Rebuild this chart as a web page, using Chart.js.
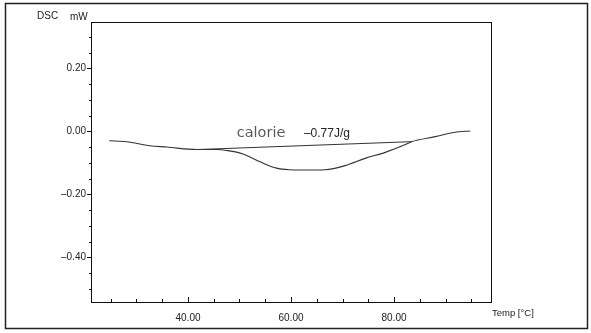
<!DOCTYPE html>
<html>
<head>
<meta charset="utf-8">
<script src="https://cdn.jsdelivr.net/npm/chart.js@4"></script>
<style>
  html, body { margin: 0; padding: 0; background: #fff; }
  #wrap { width: 591px; height: 333px; }
</style>
</head>
<body>
<div id="wrap"><canvas id="dscChart" width="591" height="333"></canvas></div>
<script>
// DSC curve
const curveTemp = [24.7, 28.1, 32.6, 35.9, 41.7, 45.6, 47.5, 50.7, 54.0, 57.2, 59.8, 63.0, 66.6, 70.5, 74.4, 78.3, 82.1, 83.4, 88.0, 91.8, 94.8];
const curveDsc = [-0.030, -0.033, -0.046, -0.050, -0.058, -0.058, -0.061, -0.072, -0.097, -0.117, -0.122, -0.123, -0.122, -0.109, -0.086, -0.067, -0.043, -0.033, -0.017, -0.003, 0.001];

// integration baseline
const baseTemp = [41.7, 83.4];
const baseDsc = [-0.058, -0.033];

const xTickValues = [40, 60, 80];
const yTickValues = [0.2, 0, -0.2, -0.4];

function toPoints(xs, ys) {
    return xs.map((x, i) => ({ x: x, y: ys[i] }));
}

function fmt(v) {
    const s = Math.abs(v).toFixed(2);
    return v < 0 ? '\u2013' + s : s;
}

const decor = {
    id: 'decor',
    beforeDraw(chart) {
        const ctx = chart.ctx;
        ctx.save();
        ctx.fillStyle = '#fff';
        ctx.fillRect(0, 0, chart.width, chart.height);
        ctx.restore();
    },
    afterDraw(chart) {
        const ctx = chart.ctx;
        const a = chart.chartArea;
        const xs = chart.scales.x;
        const ys = chart.scales.y;
        ctx.save();

        // outer frame
        ctx.strokeStyle = '#222';
        ctx.lineWidth = 1.5;
        ctx.strokeRect(5.5, 3.5, 582, 325);

        // plot frame
        ctx.lineWidth = 1;
        ctx.strokeStyle = '#111';
        ctx.strokeRect(a.left + 0.5, a.top + 0.5, a.right - a.left, a.bottom - a.top);

        // x ticks, drawn inward
        ctx.beginPath();
        for (let t = 25; t <= 95; t += 5) {
            const px = Math.round(xs.getPixelForValue(t)) + 0.5;
            const len = xTickValues.includes(t) ? 5 : 3;
            ctx.moveTo(px, a.bottom);
            ctx.lineTo(px, a.bottom - len);
        }
        // y minor ticks, outward
        for (let k = -10; k <= 6; k++) {
            const v = k * 0.05;
            if (k % 4 === 0) continue;
            const py = Math.round(ys.getPixelForValue(v)) + 0.5;
            ctx.moveTo(a.left, py);
            ctx.lineTo(a.left - 2, py);
        }
        ctx.stroke();

        // axis captions
        ctx.fillStyle = '#222';
        ctx.font = '10px "Liberation Sans", Arial, sans-serif';
        ctx.textBaseline = 'alphabetic';
        ctx.textAlign = 'left';
        ctx.fillText('DSC', 37, 19);
        ctx.fillText('mW', 70, 20);
        ctx.font = '9.5px "Liberation Sans", Arial, sans-serif';
        ctx.fillText('Temp [\u00B0C]', 492, 316);

        // peak annotation
        const ty = ys.getPixelForValue(-0.017);
        ctx.fillStyle = '#5a5a5a';
        ctx.font = '14.5px "DejaVu Sans", Verdana, sans-serif';
        ctx.fillText('calorie', xs.getPixelForValue(49.45), ty);
        ctx.fillStyle = '#222';
        ctx.font = '12px "Liberation Sans", Arial, sans-serif';
        ctx.fillText('\u20130.77J/g', xs.getPixelForValue(62.5), ty);

        ctx.restore();
    }
};

const config = {
    type: 'scatter',
    data: {
        datasets: [
            {
                data: toPoints(curveTemp, curveDsc),
                showLine: true,
                borderColor: '#333',
                borderWidth: 1.1,
                pointRadius: 0,
                cubicInterpolationMode: 'monotone'
            },
            {
                data: toPoints(baseTemp, baseDsc),
                showLine: true,
                borderColor: '#333',
                borderWidth: 1,
                pointRadius: 0
            }
        ]
    },
    options: {
        responsive: false,
        animation: false,
        events: [],
        layout: { padding: { top: 22, right: 100, bottom: 0, left: 0 } },
        plugins: {
            legend: { display: false },
            tooltip: { enabled: false }
        },
        scales: {
            x: {
                type: 'linear',
                min: 21.17,
                max: 98.83,
                afterBuildTicks: s => { s.ticks = xTickValues.map(v => ({ value: v })); },
                afterFit: s => { s.height = 31; },
                grid: { display: false },
                border: { display: false },
                ticks: {
                    padding: 2,
                    color: '#222',
                    font: { family: '"Liberation Sans", Arial, sans-serif', size: 10 },
                    maxRotation: 0,
                    callback: v => v.toFixed(2)
                }
            },
            y: {
                type: 'linear',
                min: -0.542,
                max: 0.347,
                afterBuildTicks: s => { s.ticks = yTickValues.map(v => ({ value: v })); },
                afterFit: s => { s.width = 91; },
                grid: { drawOnChartArea: false, tickLength: 4, color: '#111' },
                border: { display: false },
                ticks: {
                    padding: 1,
                    color: '#222',
                    font: { family: '"Liberation Sans", Arial, sans-serif', size: 10 },
                    callback: v => fmt(v)
                }
            }
        }
    },
    plugins: [decor]
};

new Chart(document.getElementById('dscChart').getContext('2d'), config);
</script>
</body>
</html>
